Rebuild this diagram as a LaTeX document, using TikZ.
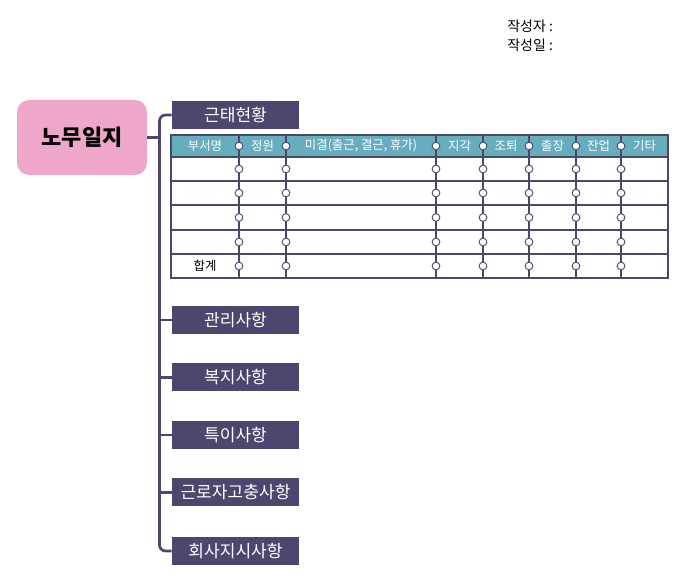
\documentclass[tikz,border=0pt]{standalone}
\usepackage{fontspec}
\setmainfont{Noto Sans CJK KR}
\begin{document}
\begin{tikzpicture}[x=0.75pt,y=-0.75pt,
  branch/.style={fill=boxc,text=white,minimum width=95.25pt,minimum height=21pt,inner sep=0pt,font=\fontsize{12.8}{14}\selectfont},
  conn/.style={draw=boxc,line width=2pt,rounded corners=4.5pt},
  grid/.style={draw=gridc,line width=0.8pt},
  hdr/.style={text=white,font=\fontsize{9.3}{11}\selectfont,inner sep=0pt},
  dot/.style={circle,draw=gridc,fill=white,line width=0.7pt,minimum size=5.8pt,inner sep=0pt}]
\definecolor{boxc}{HTML}{4F4670}
\definecolor{gridc}{HTML}{4A4866}
\definecolor{hdrc}{HTML}{68ADBE}
\definecolor{rootc}{HTML}{EFA7C9}
\useasboundingbox (0,0) rectangle (689,580);
% header info
\node[anchor=west,inner sep=0pt,font=\fontsize{10.5}{12}\selectfont] (author) at (507,26) {작성자 :};
\node[anchor=west,inner sep=0pt,font=\fontsize{10.5}{12}\selectfont] (date) at (507,45) {작성일 :};
% root
\node[fill=rootc,rounded corners=9pt,minimum width=97.5pt,minimum height=56.25pt,inner sep=0pt,font=\fontsize{16.5}{18}\bfseries] (root) at (82,137.5) {노무일지};
% branches
\node[branch] (b1) at (235.5,115) {근태현황};
\node[branch] (b2) at (235.5,320) {관리사항};
\node[branch] (b3) at (235.5,377.5) {복지사항};
\node[branch] (b4) at (235.5,435) {특이사항};
\node[branch] (b5) at (235.5,492.5) {근로자고충사항};
\node[branch] (b6) at (235.5,551) {회사지시사항};
\coordinate (spine) at (159.5,0);
\draw[conn] (b1.west) -| (spine |- b6.west) -- (b6.west);
\draw[conn] (root.east) -- (spine |- root.east);
\foreach \b in {b2,b3,b4,b5} \draw[conn] (spine |- \b.west) -- (\b.west);
% table
\fill[hdrc] (171,135) rectangle (668,157);
\foreach \y in {157,181,205,230,254} \draw[grid] (171,\y) -- (668,\y);
\foreach \x in {239,286,436,483,529,576,621} \draw[grid] (\x,135) -- (\x,278);
\draw[grid] (171,135) rectangle (668,278);
\node[hdr] (h1) at (205,146) {부서명};
\node[hdr] (h2) at (262.5,146) {정원};
\node[hdr] (h3) at (361,146) {미결(출근, 결근, 휴가)};
\node[hdr] (h4) at (459.5,146) {지각};
\node[hdr] (h5) at (506,146) {조퇴};
\node[hdr] (h6) at (552.5,146) {출장};
\node[hdr] (h7) at (598.5,146) {잔업};
\node[hdr] (h8) at (644.5,146) {기타};
\node[inner sep=0pt,font=\fontsize{9.3}{11}\selectfont] (sum) at (205,266) {합계};
\foreach \x in {239,286,436,483,529,576,621}
  \foreach \y in {146,169,193,217.5,242,266}
    \node[dot] at (\x,\y) {};
\end{tikzpicture}
\end{document}
